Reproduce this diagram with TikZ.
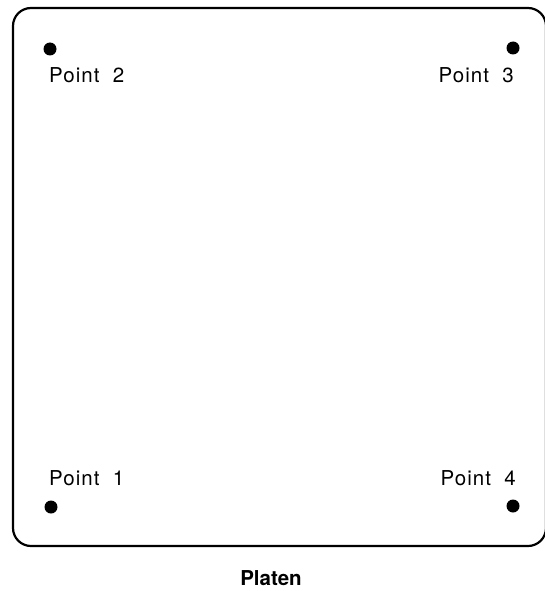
\documentclass[tikz,border=0pt]{standalone}
\usepackage{fontspec}
\setmainfont{TeX Gyre Heros}
\newfontfamily\ptfont[LetterSpace=5,WordSpace=2]{TeX Gyre Heros}
\usetikzlibrary{positioning}
\tikzset{
    dot/.style={
        circle,fill=black,inner sep=0pt,minimum size=13pt
    },
    ptlabel/.style={
        inner sep=0pt,
        font=\ptfont\fontsize{20.5}{24}\selectfont
    },
    platen/.style={
        line width=2.2pt,rounded corners=18pt
    }
}
\begin{document}
\begin{tikzpicture}[x=1pt,y=-1pt]
\useasboundingbox (0,0) rectangle (544,591);

\draw[platen] (13,8) rectangle (546,546);

\node[dot] (p2) at (50,49) {};
\node[dot] (p3) at (513,48) {};
\node[dot] (p1) at (51,507) {};
\node[dot] (p4) at (513,506) {};

\node[ptlabel,anchor=base west] (l2) at (49,83) {Point 2};
\node[ptlabel,anchor=base east] (l3) at (514,83) {Point 3};
\node[ptlabel,anchor=base west] (l1) at (49,485) {Point 1};
\node[ptlabel,anchor=base east] (l4) at (516,485) {Point 4};

\node[inner sep=0pt,anchor=base,font=\fontsize{20.5}{24}\selectfont\bfseries]
(cap) at (271,585) {Platen};

\end{tikzpicture}
\end{document}
